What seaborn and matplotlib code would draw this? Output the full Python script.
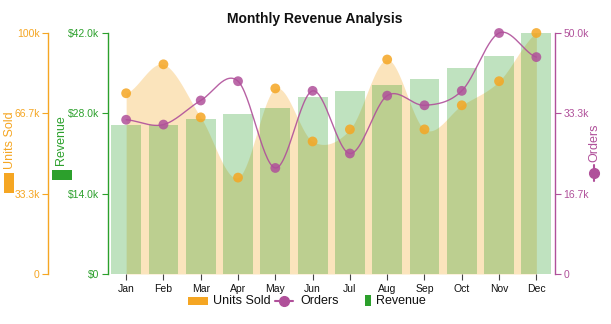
import numpy as np
import pandas as pd
import matplotlib
matplotlib.use("Agg")
import matplotlib.pyplot as plt
import seaborn as sns
from matplotlib.patches import Rectangle
from matplotlib.lines import Line2D

# ---------------- data ----------------
months = ["Jan", "Feb", "Mar", "Apr", "May", "Jun", "Jul", "Aug", "Sep", "Oct", "Nov", "Dec"]
revenue = [25900, 25900, 27000, 27900, 28900, 30900, 31900, 32900, 33900, 35900, 38000, 42000]
units_sold = [75000, 87000, 65000, 40000, 77000, 55000, 60000, 89000, 60000, 70000, 80000, 100000]
orders = [32000, 31000, 36000, 40000, 22000, 38000, 25000, 37000, 35000, 38000, 50000, 45000]

rev_ticks = [0, 14000, 28000, 42000]
rev_tick_labels = ["$0", "$14.0k", "$28.0k", "$42.0k"]
units_ticks = [0, 33333, 66667, 100000]
units_tick_labels = ["0", "33.3k", "66.7k", "100k"]
orders_ticks = [0, 16667, 33333, 50000]
orders_tick_labels = ["0", "16.7k", "33.3k", "50.0k"]

ORANGE = "#F5A623"
GREEN = "#2CA02C"
PURPLE = "#B0509A"

sns.set_theme(style="ticks")
plt.rcParams["font.family"] = ["Liberation Sans", "DejaVu Sans"]

W, H = 611, 324
fig = plt.figure(figsize=(W / 100, H / 100), dpi=100)
fig.patch.set_facecolor("white")
L, R, T, B = 107.5, 555, 33, 274
AX_W = R - L

df = pd.DataFrame({"month": months, "revenue": revenue,
                   "units": units_sold, "orders": orders})
df["pos"] = np.arange(len(months))


def smooth(vals, n=30):
    """Catmull-Rom rendering of a series through its points (for drawing only)."""
    v = np.asarray(vals, float)
    P = np.concatenate([[v[0]], v, [v[-1]]])
    xs, ys = [], []
    t = np.linspace(0, 1, n)
    for i in range(len(v) - 1):
        p0, p1, p2, p3 = P[i], P[i + 1], P[i + 2], P[i + 3]
        m1 = (p2 - p0) / 2
        m2 = (p3 - p1) / 2
        h00 = 2 * t**3 - 3 * t**2 + 1
        h10 = t**3 - 2 * t**2 + t
        h01 = -2 * t**3 + 3 * t**2
        h11 = t**3 - t**2
        ys.append(h00 * p1 + h10 * m1 + h01 * p2 + h11 * m2)
        xs.append(i + t)
    return np.concatenate(xs), np.concatenate(ys)


rect_ax = [L / W, 1 - B / H, AX_W / W, (B - T) / H]

# ---------------- units sold area (bottom layer, outer left axis) ----------------
ax_u = fig.add_axes(rect_ax, zorder=0)
xs, ys = smooth(units_sold)
ax_u.fill_between(xs, 0, ys, color=ORANGE, alpha=0.3, linewidth=0)
ax_u.set_xlim(-0.5, 11.5)
ax_u.set_ylim(0, 100000)
ax_u.set_yticks(units_ticks)
ax_u.set_yticklabels(units_tick_labels)
for s in ["top", "right", "bottom"]:
    ax_u.spines[s].set_visible(False)
ax_u.spines["left"].set_position(("axes", -59.5 / AX_W))
ax_u.spines["left"].set_color(ORANGE)
ax_u.spines["left"].set_linewidth(1)
ax_u.tick_params(axis="y", colors=ORANGE, labelsize=7.5, length=4, width=0.8, pad=2)
ax_u.tick_params(axis="x", bottom=False, labelbottom=False)

# ---------------- revenue bars ----------------
ax = fig.add_axes(rect_ax, zorder=1)
ax.patch.set_visible(False)
sns.barplot(data=df, x="month", y="revenue", color=GREEN, alpha=0.3,
            width=0.8, saturation=1, linewidth=0, ax=ax)
ax.set_xlim(-0.5, 11.5)
ax.set_ylim(0, 42000)
ax.set_yticks(rev_ticks)
ax.set_yticklabels(rev_tick_labels)
ax.set_xlabel("")
ax.set_ylabel("")
for s in ["top", "right", "bottom"]:
    ax.spines[s].set_visible(False)
ax.spines["left"].set_color(GREEN)
ax.spines["left"].set_linewidth(1)
ax.tick_params(axis="y", colors=GREEN, labelsize=7.5, length=4, width=0.8, pad=2)
ax.tick_params(axis="x", colors="#444444", labelcolor="#111111", labelsize=7.5,
               length=4, width=0.8, pad=3)

# ---------------- units sold dots (above bars) ----------------
ax_ud = fig.add_axes(rect_ax, zorder=2)
ax_ud.patch.set_visible(False)
sns.scatterplot(data=df, x="pos", y="units", color=ORANGE, s=50,
                edgecolor="none", alpha=0.85, ax=ax_ud, zorder=3, clip_on=False)
ax_ud.set_xlim(-0.5, 11.5)
ax_ud.set_ylim(0, 100000)
ax_ud.axis("off")

# ---------------- orders (right axis) ----------------
ax_o = fig.add_axes(rect_ax, zorder=3)
ax_o.patch.set_visible(False)
xo, yo = smooth(orders)
ax_o.plot(xo, yo, color=PURPLE, lw=1.0, alpha=0.9, clip_on=False)
sns.scatterplot(data=df, x="pos", y="orders", color=PURPLE, s=50,
                edgecolor="none", alpha=0.85, ax=ax_o, zorder=3, clip_on=False)
ax_o.set_xlim(-0.5, 11.5)
ax_o.set_ylim(0, 50000)
ax_o.yaxis.tick_right()
ax_o.set_yticks(orders_ticks)
ax_o.set_yticklabels(orders_tick_labels)
ax_o.set_ylabel("")
ax_o.set_xlabel("")
for s in ["top", "left", "bottom"]:
    ax_o.spines[s].set_visible(False)
ax_o.spines["right"].set_visible(True)
ax_o.spines["right"].set_color(PURPLE)
ax_o.spines["right"].set_linewidth(1)
ax_o.tick_params(axis="y", colors=PURPLE, labelsize=7.5, length=4, width=0.8, pad=2,
                 left=False, labelleft=False, right=True, labelright=True)
ax_o.tick_params(axis="x", bottom=False, labelbottom=False)


# ---------------- helpers in pixel coords ----------------
def fx(x):
    return x / W


def fy(y):
    return 1 - y / H


def rect(x0, y0, x1, y1, color):
    fig.add_artist(Rectangle((fx(x0), fy(y1)), (x1 - x0) / W, (y1 - y0) / H,
                             transform=fig.transFigure, color=color, lw=0))


# title
fig.text(fx(315), fy(19), "Monthly Revenue Analysis", ha="center", va="center",
         fontsize=10, fontweight="bold", color="#111111")

# axis titles with symbols
fig.text(fx(10), fy(140), "Units Sold", rotation=90, ha="center", va="center",
         fontsize=9, color=ORANGE)
rect(4, 173, 14, 193, ORANGE)
fig.text(fx(61), fy(140), "Revenue", rotation=90, ha="center", va="center",
         fontsize=9, color=GREEN)
rect(52, 170, 72, 180, GREEN)
fig.text(fx(594), fy(143), "Orders", rotation=90, ha="center", va="center",
         fontsize=9, color=PURPLE)
fig.add_artist(Line2D([fx(594), fx(594)], [fy(165), fy(181)], transform=fig.transFigure,
                      color=PURPLE, lw=1.5))
fig.add_artist(Line2D([fx(594)], [fy(173)], transform=fig.transFigure, marker="o",
                      markersize=7, color=PURPLE, lw=0))

# bottom legend
rect(188, 297, 208, 305, ORANGE)
fig.text(fx(213), fy(301), "Units Sold", ha="left", va="center", fontsize=9, color="#111111")
fig.add_artist(Line2D([fx(275), fx(293)], [fy(301), fy(301)], transform=fig.transFigure,
                      color=PURPLE, lw=1.5))
fig.add_artist(Line2D([fx(284)], [fy(301)], transform=fig.transFigure, marker="o",
                      markersize=7, color=PURPLE, lw=0))
fig.text(fx(300), fy(301), "Orders", ha="left", va="center", fontsize=9, color="#111111")
rect(365, 295, 371, 306, GREEN)
fig.text(fx(376), fy(301), "Revenue", ha="left", va="center", fontsize=9, color="#111111")

fig.savefig("out.png", dpi=100, facecolor="white")
